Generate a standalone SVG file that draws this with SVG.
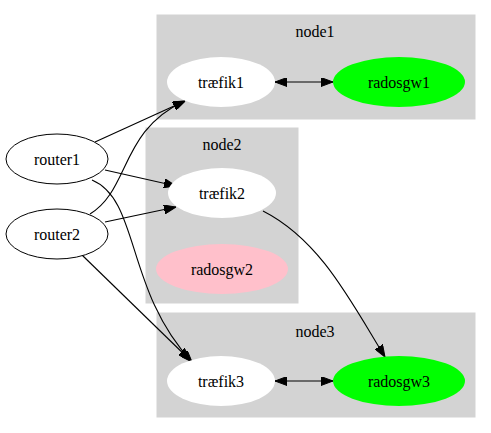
<svg xmlns="http://www.w3.org/2000/svg" width="491" height="433" viewBox="0 0 491 433">
<style>
text{font-family:"Liberation Serif","Times New Roman",serif;font-size:16px;text-anchor:middle;fill:#000}
.cl{fill:#d3d3d3;stroke:#d3d3d3}
.e{stroke:#000;stroke-width:1.1;fill:none}
</style>
<defs>
<marker id="ah" viewBox="0 0 12 9" refX="12" refY="4.5" markerWidth="12" markerHeight="9" markerUnits="userSpaceOnUse" orient="auto-start-reverse">
<path d="M0,0L12,4.5L0,9Z" fill="#000" stroke="#000"/>
</marker>
</defs>
<rect width="491" height="433" fill="#fff"/>
<g id="cluster_node1"><rect class="cl" x="157" y="15" width="318" height="104"/><text x="315" y="37">node1</text></g>
<g id="cluster_node2"><rect class="cl" x="146" y="128" width="152" height="175"/><text x="222" y="150">node2</text></g>
<g id="cluster_node3"><rect class="cl" x="157" y="313" width="318" height="104"/><text x="315" y="337">node3</text></g>
<g id="connectors">
<path class="e" d="M95,142 L185,101" marker-end="url(#ah)"/>
<path class="e" d="M90,214 C130,190 120,130 185,101" marker-end="url(#ah)"/>
<path class="e" d="M105,170 L176,186" marker-end="url(#ah)"/>
<path class="e" d="M105,222 L176,207" marker-end="url(#ah)"/>
<path class="e" d="M92,180 C140,200 125,290 192,362" marker-end="url(#ah)"/>
<path class="e" d="M82,255 L190,360" marker-end="url(#ah)"/>
<path class="e" d="M263,211 C320,240 350,300 385,357" marker-end="url(#ah)"/>
<path class="e" d="M275,82 L333,82" marker-start="url(#ah)" marker-end="url(#ah)"/>
<path class="e" d="M275,381 L333,381" marker-start="url(#ah)" marker-end="url(#ah)"/>
</g>
<g id="router1"><ellipse cx="57" cy="159" rx="51" ry="25" fill="#fff" stroke="#000"/><text x="57" y="165">router1</text></g>
<g id="router2"><ellipse cx="57" cy="234" rx="51" ry="25" fill="#fff" stroke="#000"/><text x="57" y="240">router2</text></g>
<g id="traefik1"><ellipse cx="221" cy="82" rx="54" ry="25" fill="#fff"/><text x="221" y="88">træfik1</text></g>
<g id="radosgw1"><ellipse cx="399" cy="82" rx="66" ry="25" fill="#00ff00"/><text x="399" y="88">radosgw1</text></g>
<g id="traefik2"><ellipse cx="222" cy="193" rx="54" ry="25" fill="#fff"/><text x="222" y="199">træfik2</text></g>
<g id="radosgw2"><ellipse cx="222" cy="269" rx="66" ry="25" fill="#ffc0cb"/><text x="222" y="275">radosgw2</text></g>
<g id="traefik3"><ellipse cx="221" cy="381" rx="54" ry="25" fill="#fff"/><text x="221" y="387">træfik3</text></g>
<g id="radosgw3"><ellipse cx="399" cy="381" rx="66" ry="25" fill="#00ff00"/><text x="399" y="387">radosgw3</text></g>
</svg>
